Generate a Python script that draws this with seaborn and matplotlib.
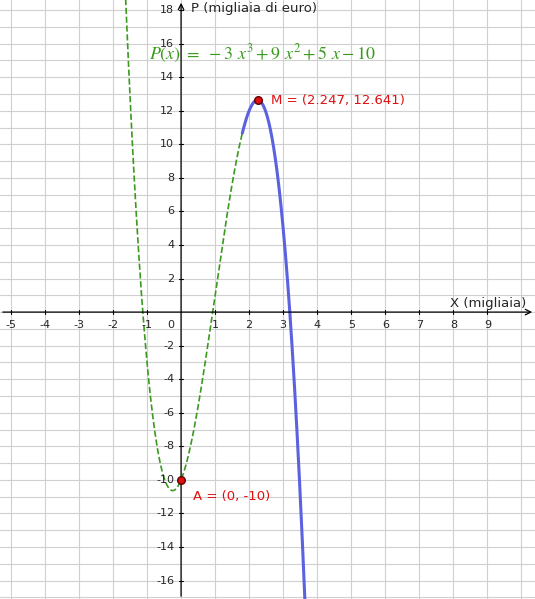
import matplotlib
matplotlib.use('Agg')
import matplotlib.pyplot as plt
import numpy as np
import pandas as pd
import seaborn as sns

sns.set_style('white')
plt.rcParams['mathtext.fontset'] = 'stix'

coeffs = [-3, 9, 5, -10]
x_ticks = [-5, -4, -3, -2, -1, 1, 2, 3, 4, 5, 6, 7, 8, 9]
y_ticks = [-16, -14, -12, -10, -8, -6, -4, -2, 2, 4, 6, 8, 10, 12, 14, 16, 18]
point_a = (0, -10)
point_m = (2.247, 12.641)
blue_from, blue_to = 1.8, 4.0

xs = np.linspace(-2.0, 1.8, 400)
green = pd.DataFrame({'x': xs, 'y': np.polyval(coeffs, xs)})
xb = np.linspace(blue_from, blue_to, 300)
blue = pd.DataFrame({'x': xb, 'y': np.polyval(coeffs, xb)})

fig = plt.figure(figsize=(5.35, 5.99), dpi=100)
ax = fig.add_axes([0, 0, 1, 1])
ax.set_xlim(-5.32, 10.4)
ax.set_ylim(-17.1, 18.6)
for s in ax.spines.values():
    s.set_visible(False)
ax.set_xticks(np.arange(-5, 11, 1))
ax.set_yticks(np.arange(-17, 19, 1))
ax.grid(True, color='#d0d0d0', lw=0.8)
ax.tick_params(length=0, labelbottom=False, labelleft=False)

ax.annotate('', xy=(10.4, 0), xytext=(-5.32, 0),
            arrowprops=dict(arrowstyle='->', color='black', lw=0.9))
ax.annotate('', xy=(0, 18.6), xytext=(0, -17.1),
            arrowprops=dict(arrowstyle='->', color='black', lw=0.9))
for t in x_ticks:
    ax.plot([t, t], [-0.12, 0.12], color='black', lw=0.8)
    ax.text(t, -0.5, str(t) if t >= 0 else '-' + str(-t), ha='center', va='top', fontsize=8)
for t in y_ticks:
    ax.plot([-0.06, 0.06], [t, t], color='black', lw=0.8)
    ax.text(-0.2, t, str(t) if t >= 0 else '-' + str(-t), ha='right', va='center', fontsize=8)
ax.text(-0.2, -0.5, '0', ha='right', va='top', fontsize=8)

sns.lineplot(data=green, x='x', y='y', ax=ax, color='#3a9a1e', lw=1.2, linestyle='--')
sns.lineplot(data=blue, x='x', y='y', ax=ax, color='#5b62e0', lw=2.2)

for p in [point_a, point_m]:
    ax.scatter(*p, s=30, color='#e01010', edgecolor='#600000', zorder=5)
ax.text(0.35, -11.2, 'A = (0, -10)', color='#e01010', fontsize=9.5)
ax.text(2.65, 12.6, 'M = (2.247, 12.641)', color='#e01010', fontsize=9.5, va='center')

ax.text(7.9, 0.15, 'X (migliaia)', fontsize=9.5, va='bottom')
ax.text(0.3, 18.1, 'P (migliaia di euro)', fontsize=9.5, va='center')
ax.text(-0.95, 15.4, r'$P(x)\ =\ -3\ x^3 + 9\ x^2 + 5\ x - 10$',
        color='#3a9a1e', fontsize=13, va='center')

fig.savefig('out.png', dpi=100)
